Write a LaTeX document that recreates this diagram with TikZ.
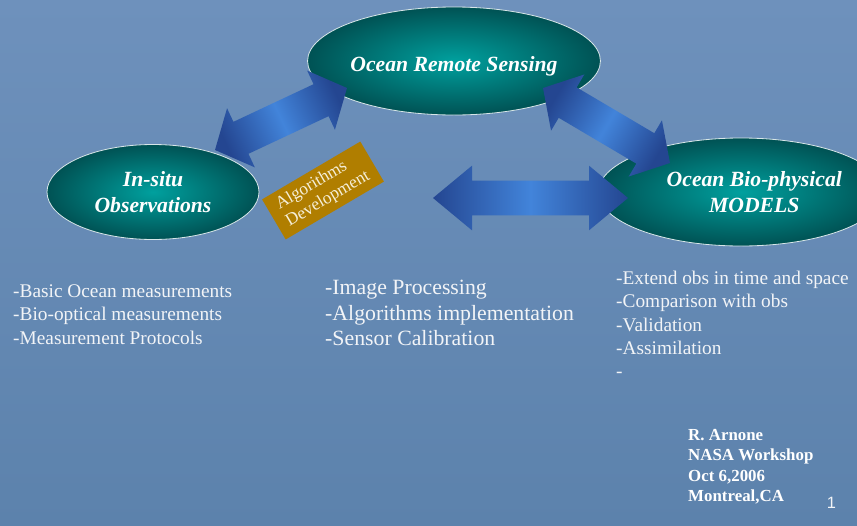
\documentclass[tikz,border=0pt]{standalone}
\usepackage{fontspec}
\setmainfont{Liberation Serif}
\newfontfamily\pagenumfont{Liberation Sans}
\usetikzlibrary{calc,shapes.geometric}

\definecolor{slidetop}{RGB}{110,145,188}
\definecolor{slidebot}{RGB}{92,130,172}
\definecolor{tealin}{RGB}{0,160,158}
\definecolor{tealout}{RGB}{0,82,84}
\definecolor{ovalrim}{RGB}{215,230,232}
\definecolor{arrdark}{RGB}{36,70,145}
\definecolor{arrlight}{RGB}{66,132,218}
\definecolor{algogold}{RGB}{176,126,0}
\definecolor{algotext}{RGB}{245,238,215}
\definecolor{listtext}{RGB}{242,244,247}

% block arrow: shading angle, from, to, head length, head half width, shaft half width
\newcommand{\blockarrow}[6]{%
  \shade[arrshade=#1]
    (#2) -- ($(#2)!#4!(#3)!#5!90:(#3)$) -- ($(#2)!#4!(#3)!#6!90:(#3)$)
    -- ($(#3)!#4!(#2)!#6!-90:(#2)$) -- ($(#3)!#4!(#2)!#5!-90:(#2)$) -- (#3)
    -- ($(#3)!#4!(#2)!#5!90:(#2)$) -- ($(#3)!#4!(#2)!#6!90:(#2)$)
    -- ($(#2)!#4!(#3)!#6!-90:(#3)$) -- ($(#2)!#4!(#3)!#5!-90:(#3)$) -- cycle;}

\begin{document}
\begin{tikzpicture}[x=0.03cm, y=-0.03cm,
  oval/.style={ellipse, draw=ovalrim, line width=0.7pt,
    inner color=tealin, outer color=tealout, inner sep=0pt,
    text=white, align=center,
    execute at begin node={\rule{0pt}{22pt}},
    font=\fontsize{18.5}{22}\selectfont\bfseries\itshape},
  arrshade/.style={top color=arrdark, bottom color=arrdark,
    middle color=arrlight, shading angle=#1},
  algobox/.style={fill=algogold, minimum width=3.42cm,
    minimum height=1.395cm, inner sep=0pt, text=algotext,
    align=left, font=\fontsize{14.9}{17}\selectfont},
  bullets/.style={anchor=base west, align=left, inner sep=0pt,
    text=listtext, font=\fontsize{16.5}{19.9}\selectfont},
  bigbullets/.style={bullets, font=\fontsize{18.6}{21.6}\selectfont},
  credit/.style={anchor=base west, align=left, inner sep=0pt,
    text=white, font=\fontsize{14.4}{17.5}\selectfont\bfseries}]

\useasboundingbox (0,0) rectangle (857,526);
\shade[top color=slidetop, bottom color=slidebot] (0,0) rectangle (857,526);

% The three ovals
\node[oval, minimum width=7.86cm, minimum height=3.24cm] (ors) at (454,61)
  {Ocean Remote Sensing};
\node[oval, minimum width=6.36cm, minimum height=2.85cm] (insitu) at (153,192)
  {In-situ\\Observations};
\node[oval, minimum width=7.2cm, minimum height=3.24cm] (models) at (741,192)
  {\hspace*{0.8cm}Ocean Bio-physical\\\hspace*{0.8cm}MODELS};

% Rotated tag
\node[algobox, rotate=30.5] (algo) at (323,190.5) {Algorithms\\Development};

% Arrow ends
\coordinate (insitu-ne) at ($(insitu.center)+(62,-42)$);
\coordinate (ors-sw) at ($(ors.center)+(-107,27)$);
\coordinate (ors-se) at ($(ors.center)+(89,27)$);
\coordinate (models-nw) at ($(models.center)+(-71,-29)$);
\coordinate (models-w) at ($(models.center)+(-113,6)$);
\coordinate (mid-w) at (433,198);

% Double block arrows
\blockarrow{115}{insitu-ne}{ors-sw}{0.86cm}{0.98cm}{0.53cm}
\blockarrow{59.4}{ors-se}{models-nw}{0.86cm}{0.98cm}{0.53cm}
\blockarrow{90}{mid-w}{models-w}{1.17cm}{0.97cm}{0.52cm}

% Text lists (anchored on last baseline)
\node[bullets] (obslist) at (13,344)
  {-Basic Ocean measurements\\-Bio-optical measurements\\-Measurement Protocols};
\node[bigbullets] (rslist) at (325,345.6)
  {-Image Processing\\-Algorithms implementation\\-Sensor Calibration};
\node[bullets] (modlist) at (616,377.8)
  {-Extend obs in time and space\\-Comparison with obs\\-Validation\\-Assimilation\\-};

% Credits and page number
\node[credit] (author) at (688,501.7)
  {R. Arnone\\NASA Workshop\\Oct 6,2006\\Montreal,CA};
\node[anchor=base, inner sep=0pt, text=listtext,
  font=\pagenumfont\fontsize{14}{14}\selectfont] (pnum) at (831.5,508) {1};

\end{tikzpicture}
\end{document}
